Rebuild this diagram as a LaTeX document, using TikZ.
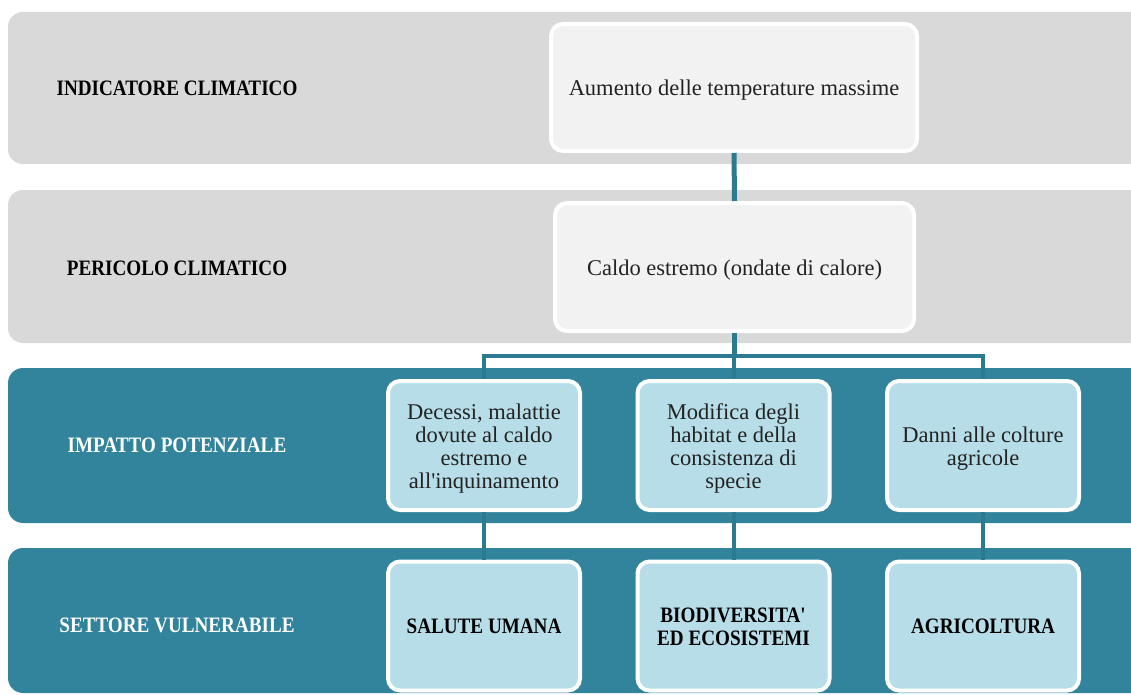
\documentclass[tikz,border=0pt]{standalone}
\usepackage{fontspec}
\setmainfont{Liberation Serif}
\newfontfamily\labfont[FakeStretch=0.87]{Liberation Serif}
\definecolor{bandgray}{HTML}{D9D9D9}
\definecolor{boxgray}{HTML}{F2F2F2}
\definecolor{bandteal}{HTML}{31849B}
\definecolor{boxblue}{HTML}{B7DEE8}
\definecolor{conncol}{HTML}{2B7A8F}
\definecolor{textdark}{HTML}{222222}
\tikzset{
  band/.style={rounded corners=15pt},
  greybox/.style={draw=white, line width=4pt, fill=boxgray, rounded corners=12pt},
  bluebox/.style={draw=white, line width=4pt, fill=boxblue, rounded corners=12pt,
    minimum width=192pt, minimum height=129pt},
  boxtext/.style={align=center, text=textdark, inner sep=0pt,
    font={\fontsize{22.5}{22.9}\selectfont}},
  sectortext/.style={align=center, text=black, inner sep=0pt,
    font={\labfont\bfseries\fontsize{22}{22.5}\selectfont}},
  rowlabel/.style={font={\labfont\bfseries\fontsize{22}{22}\selectfont}, inner sep=0pt},
  mainconn/.style={draw=conncol, line width=5pt},
  subconn/.style={draw=conncol, line width=4pt}
}
\begin{document}
\begin{tikzpicture}[x=1pt,y=-1pt]
\useasboundingbox (0,0) rectangle (1131,695);
\clip (0,0) rectangle (1131,695);
% bands
\fill[bandgray, band] (8,12) rectangle (1170,164);
\fill[bandgray, band] (8,190) rectangle (1170,343);
\fill[bandteal, band] (8,368) rectangle (1170,523);
\fill[bandteal, band] (8,548) rectangle (1170,693);
% row labels
\node[rowlabel, text=black] (l1) at (177,88) {INDICATORE CLIMATICO};
\node[rowlabel, text=black] (l2) at (177,268) {PERICOLO CLIMATICO};
\node[rowlabel, text=white] (l3) at (177,445) {IMPATTO POTENZIALE};
\node[rowlabel, text=white] (l4) at (177,625) {SETTORE VULNERABILE};
% boxes
\node[greybox, minimum width=366pt, minimum height=127pt] (ind) at (734,87.5) {};
\node[greybox, minimum width=359pt, minimum height=128pt] (haz) at (734.5,267) {};
\node[bluebox] (impA) at (484,445.5) {};
\node[bluebox] (impB) at (733.5,445.5) {};
\node[bluebox] (impC) at (983,445.5) {};
\node[bluebox] (secA) at (484,626) {};
\node[bluebox] (secB) at (733.5,626) {};
\node[bluebox] (secC) at (983,626) {};
% box texts
\node[boxtext] (indt) at (734,90) {Aumento delle temperature massime};
\node[boxtext] (hazt) at (734.5,270) {Caldo estremo (ondate di calore)};
\node[boxtext] (impAt) at (484,448.5)
  {Decessi, malattie\\dovute al caldo\\estremo e\\all\textquotesingle inquinamento};
\node[boxtext] (impBt) at (733.5,448.5)
  {Modifica degli\\habitat e della\\consistenza di\\specie};
\node[boxtext] (impCt) at (983,448.5)
  {Danni alle colture\\agricole};
\node[sectortext] (secAt) at (484,626) {SALUTE UMANA};
\node[sectortext] (secBt) at (733.5,627) {BIODIVERSITA\textquotesingle\\ED ECOSISTEMI};
\node[sectortext] (secCt) at (983,626) {AGRICOLTURA};
% connectors
\coordinate (bus) at (733,356);
\draw[mainconn] (ind.south) -- (haz.north);
\draw[mainconn] (haz.south) -- (haz.south |- bus);
\draw[subconn] (impA.north) -- (impA.north |- bus) -- (impC.north |- bus) -- (impC.north);
\draw[subconn] (impB.north |- bus) -- (impB.north);
\draw[subconn] (impA.south) -- (secA.north);
\draw[subconn] (impB.south) -- (secB.north);
\draw[subconn] (impC.south) -- (secC.north);
\end{tikzpicture}
\end{document}
